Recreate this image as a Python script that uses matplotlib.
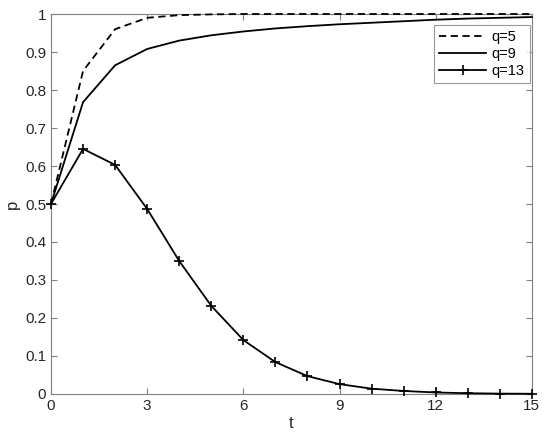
import matplotlib
matplotlib.use("Agg")
import matplotlib.pyplot as plt

t = list(range(16))
p_q5 = [0.5, 0.85, 0.96, 0.99, 0.997, 0.999, 1.0, 1.0, 1.0, 1.0, 1.0, 1.0, 1.0, 1.0, 1.0, 1.0]
p_q9 = [0.5, 0.768, 0.865, 0.908, 0.93, 0.944, 0.954, 0.962, 0.968, 0.973, 0.977, 0.981, 0.985, 0.988, 0.99, 0.992]
p_q13 = [0.5, 0.645, 0.603, 0.487, 0.35, 0.232, 0.142, 0.084, 0.047, 0.026, 0.014, 0.008, 0.004, 0.002, 0.001, 0.0006]
labels = ["q=5", "q=9", "q=13"]
xticks = [0, 3, 6, 9, 12, 15]
yticks = [0, 0.1, 0.2, 0.3, 0.4, 0.5, 0.6, 0.7, 0.8, 0.9, 1]

plt.rcParams['font.family'] = ['Liberation Sans', 'DejaVu Sans']
fig = plt.figure(figsize=(5.5, 4.46), dpi=100)
ax = fig.add_axes([0.0927, 0.1166, 0.8743, 0.852])

ax.plot(t, p_q5, color='black', linestyle=(0, (4, 2.5)), linewidth=1.3, label=labels[0], clip_on=False, zorder=3)
ax.plot(t, p_q9, color='black', linestyle='-', linewidth=1.3, label=labels[1], clip_on=False, zorder=3)
ax.plot(t, p_q13, color='black', linestyle='-', linewidth=1.3, marker='+', markersize=7,
        markeredgewidth=1.2, label=labels[2], clip_on=False, zorder=3)

ax.set_xlim(0, 15)
ax.set_ylim(0, 1)
ax.set_xticks(xticks)
ax.set_yticks(yticks)
ax.set_xticklabels([str(v) for v in xticks])
ax.set_yticklabels(['0', '0.1', '0.2', '0.3', '0.4', '0.5', '0.6', '0.7', '0.8', '0.9', '1'])
gray = '#262626'
for s in ax.spines.values():
    s.set_color('#808080')
    s.set_linewidth(0.8)
ax.tick_params(direction='in', top=True, right=True, length=4, width=0.8, color='#808080',
               labelcolor=gray, labelsize=11)
ax.set_xlabel('t', fontsize=12, color=gray, labelpad=2)
ax.set_ylabel('p', fontsize=12, color=gray, labelpad=4)

leg = ax.legend(loc='upper right', bbox_to_anchor=(0.996, 0.971), borderaxespad=0, fontsize=10.5,
                frameon=True, fancybox=False, edgecolor='#808080', handlelength=3.2, borderpad=0.35,
                labelspacing=0.2, handletextpad=0.4)
leg.get_frame().set_linewidth(0.8)
leg.set_zorder(5)

fig.savefig('out.png', dpi=100)
